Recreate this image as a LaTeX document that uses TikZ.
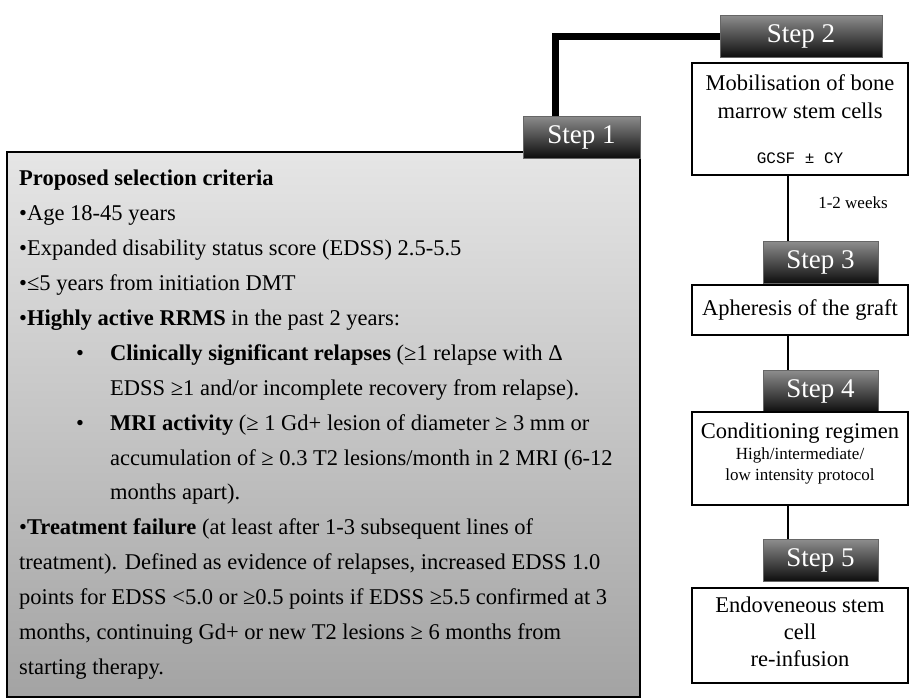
\documentclass[tikz,border=0pt]{standalone}
\usepackage{fontspec}
\setmainfont{Liberation Serif}
\newfontfamily\monofam{Liberation Mono}
\usetikzlibrary{positioning}

\newcommand{\subbul}{\hspace*{57pt}\makebox[34pt][l]{•}}
\newcommand{\subind}{\hspace*{91pt}}

\begin{document}
\begin{tikzpicture}[x=1pt, y=-1pt,
  tab/.style={draw=black!60, top color=black!45, bottom color=black!95,
    text=white, font=\fontsize{27}{28}\selectfont, minimum height=42pt, inner sep=0pt},
  stepbox/.style={draw, line width=2pt, fill=white, minimum width=216pt,
    align=center, inner sep=0pt, font=\fontsize{22.5}{28}\selectfont},
  conn/.style={line width=2.2pt}]
  \useasboundingbox (0,0) rectangle (910,699);
  % criteria panel
  \node[draw, line width=1.2pt, top color=black!10, bottom color=black!36,
        minimum width=633pt, minimum height=545pt, inner sep=0pt] (crit) at (323.5,424.5) {};
  \node[anchor=north west, align=left, inner sep=0pt,
        font=\fontsize{22.5}{34.9}\selectfont] (crittext) at (19,170)
       {\textbf{Proposed selection criteria}\\
        •Age 18-45 years\\
        •Expanded disability status score (EDSS) 2.5-5.5\\
        •≤5 years from initiation DMT\\
        •\textbf{Highly active RRMS} in the past 2 years:\\
        \subbul\textbf{Clinically significant relapses} (≥1 relapse with Δ\\
        \subind EDSS ≥1 and/or incomplete recovery from relapse).\\
        \subbul\textbf{MRI activity} (≥ 1 Gd+ lesion of diameter ≥ 3 mm or\\
        \subind accumulation of ≥ 0.3 T2 lesions/month in 2 MRI (6-12\\
        \subind months apart).\\
        •\textbf{Treatment failure} (at least after 1-3 subsequent lines of\\
        treatment). Defined as evidence of relapses, increased EDSS 1.0\\
        points for EDSS <5.0 or ≥0.5 points if EDSS ≥5.5 confirmed at 3\\
        months, continuing Gd+ or new T2 lesions ≥ 6 months from\\
        starting therapy.};
  \node[tab, minimum width=117pt] (tab1) at (581.5,137) {Step 1};
  % steps 2 to 5
  \node[tab, minimum width=162pt] (tab2) at (801,36.5) {Step 2};
  \draw[line width=6.5pt] ([xshift=-26pt]tab1.north) |- (tab2.west);
  \node[stepbox, minimum height=112pt] (box2) at (800,119)
       {Mobilisation of bone\\marrow stem cells\\[17pt]{\monofam\fontsize{16}{20}\selectfont GCSF ± CY}};
  \node[font=\fontsize{17}{20}\selectfont] (weeks) at (853,203) {1-2 weeks};
  \node[tab, minimum width=115pt] (tab3) at (820.5,262.5) {Step 3};
  \node[stepbox, minimum height=50pt] (box3) at (800,310) {Apheresis of the graft};
  \node[tab, minimum width=115pt] (tab4) at (820.5,391.5) {Step 4};
  \node[stepbox, minimum height=93pt] (box4) at (800,458.5)
       {Conditioning regimen\\[-7pt]{\fontsize{17}{20}\selectfont High/intermediate/}\\[-7pt]{\fontsize{17}{20}\selectfont low intensity protocol}\\[-14pt]\mbox{}};
  \node[tab, minimum width=115pt] (tab5) at (820.5,560.5) {Step 5};
  \node[stepbox, minimum height=95pt] (box5) at (800,635.5) {Endoveneous stem\\[-1pt]cell\\[-1pt]re-infusion\\[-20pt]\mbox{}};
  \draw[conn] ([xshift=-12pt]box2.south) -- ([xshift=-12pt]box2.south |- tab3.north);
  \draw[conn] ([xshift=-12pt]box3.south) -- ([xshift=-12pt]box3.south |- tab4.north);
  \draw[conn] ([xshift=-12pt]box4.south) -- ([xshift=-12pt]box4.south |- tab5.north);
\end{tikzpicture}
\end{document}
